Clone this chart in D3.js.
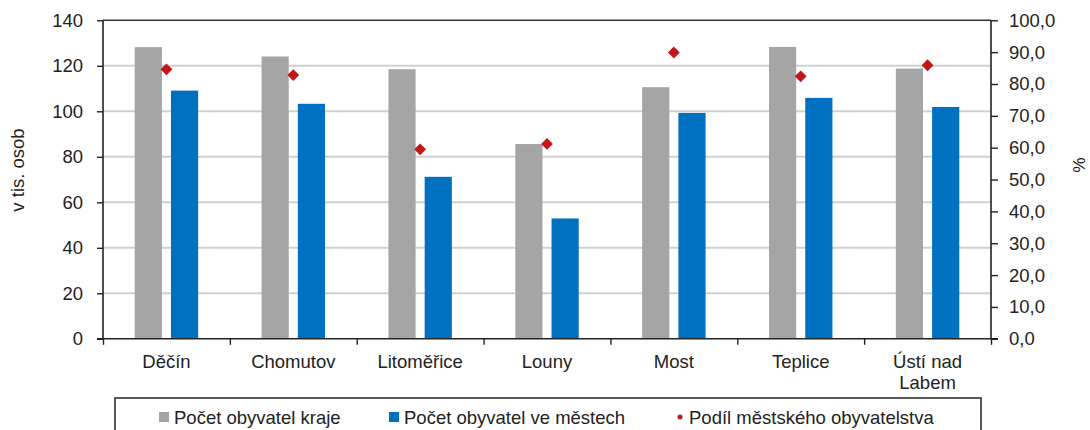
<!DOCTYPE html>
<html>
<head>
<meta charset="utf-8">
<script src="https://cdn.jsdelivr.net/npm/d3@7"></script>
<style>
  body { margin: 0; background: #fff; }
  svg { display: block; font-family: "Liberation Sans", Arial, sans-serif; }
</style>
</head>
<body>
<svg id="chart" width="1090" height="430"></svg>
<script>
// data
const categories = ['Děčín', 'Chomutov', 'Litoměřice', 'Louny', 'Most', 'Teplice', 'Ústí nad Labem'];
const categoryLines = [['Děčín'], ['Chomutov'], ['Litoměřice'], ['Louny'], ['Most'], ['Teplice'], ['Ústí nad', 'Labem']];
const krajeValues = [128.2, 124.1, 118.5, 85.6, 110.6, 128.3, 118.8];
const mestaValues = [109.1, 103.3, 71.2, 52.9, 99.3, 105.9, 101.9];
const podilValues = [84.6, 82.8, 59.5, 61.2, 89.9, 82.4, 85.9];
const leftTicks = [0, 20, 40, 60, 80, 100, 120, 140];
const rightTicks = [0, 10, 20, 30, 40, 50, 60, 70, 80, 90, 100];
const seriesNames = ['Počet obyvatel kraje', 'Počet obyvatel ve městech', 'Podíl městského obyvatelstva'];

const gray = '#a5a5a5', blue = '#0070c0', red = '#c3161c', ink = '#222';
const plotLeft = 103, plotRight = 991, plotTop = 20.3, plotBottom = 338.8;
const fs = 18.5;

const svg = d3.select('#chart');
const csLocale = d3.formatLocale({ decimal: ',', thousands: ' ', grouping: [3], currency: ['', ' Kč'] });
const pctFormat = csLocale.format('.1f');

const x = d3.scaleBand().domain(categories).range([plotLeft, plotRight]).padding(0);
const xIn = d3.scaleBand().domain(['kraj', 'mesta'])
    .range([x.bandwidth() * 0.25, x.bandwidth() * 0.75]).paddingInner(0.25);
const yL = d3.scaleLinear().domain([0, 140]).range([plotBottom, plotTop]);
const yR = d3.scaleLinear().domain([0, 100]).range([plotBottom, plotTop]);

// gridlines
svg.append('g')
    .selectAll('line')
    .data(leftTicks.filter(d => d > 0 && d < 140))
    .enter().append('line')
    .attr('x1', plotLeft).attr('x2', plotRight)
    .attr('y1', d => yL(d)).attr('y2', d => yL(d))
    .attr('stroke', '#d0d0d0').attr('stroke-width', 2);

// bars
const groups = svg.append('g')
    .selectAll('g')
    .data(categories)
    .enter().append('g')
    .attr('transform', d => `translate(${x(d)},0)`);
groups.append('rect')
    .attr('x', xIn('kraj'))
    .attr('width', xIn.bandwidth())
    .attr('y', (d, i) => yL(krajeValues[i]))
    .attr('height', (d, i) => yL(0) - yL(krajeValues[i]))
    .attr('fill', gray);
groups.append('rect')
    .attr('x', xIn('mesta'))
    .attr('width', xIn.bandwidth())
    .attr('y', (d, i) => yL(mestaValues[i]))
    .attr('height', (d, i) => yL(0) - yL(mestaValues[i]))
    .attr('fill', blue);

// diamonds
const diamond = d3.symbol(d3.symbolSquare, 70);
svg.append('g')
    .selectAll('path')
    .data(categories)
    .enter().append('path')
    .attr('d', diamond)
    .attr('transform', (d, i) => `translate(${x(d) + x.bandwidth() / 2},${yR(podilValues[i])}) rotate(45)`)
    .attr('fill', red);

// plot frame top
svg.append('line')
    .attr('x1', plotLeft).attr('x2', plotRight).attr('y1', plotTop).attr('y2', plotTop)
    .attr('stroke', '#333').attr('stroke-width', 1.5);

// left axis
const axL = svg.append('g')
    .attr('transform', `translate(${plotLeft},0)`)
    .call(d3.axisLeft(yL).tickValues(leftTicks).tickSize(6).tickPadding(14));
// right axis
const axR = svg.append('g')
    .attr('transform', `translate(${plotRight},0)`)
    .call(d3.axisRight(yR).tickValues(rightTicks).tickSize(7).tickPadding(11).tickFormat(pctFormat));
// bottom axis: ticks at category boundaries
const xb = d3.scaleLinear().domain([0, categories.length]).range([plotLeft, plotRight]);
const axB = svg.append('g')
    .attr('transform', `translate(0,${plotBottom})`)
    .call(d3.axisBottom(xb).tickValues(d3.range(0, categories.length + 1)).tickSize(6).tickFormat(''));

[axL, axR, axB].forEach(a => {
    a.attr('font-family', null).attr('font-size', null);
    a.select('.domain').attr('stroke', ink).attr('stroke-width', 1.6);
    a.selectAll('.tick line').attr('stroke', ink).attr('stroke-width', 1.4);
    a.selectAll('.tick text').attr('fill', ink).style('font-size', fs + 'px');
});
axB.select('.domain').attr('d', `M${plotLeft},0H${plotRight}`);
axL.select('.domain').attr('d', `M-6,${plotBottom}H0V${plotTop}`);
axR.select('.domain').attr('d', `M7,${plotBottom}H0V${plotTop}`);

// category labels
const lab = svg.append('g')
    .selectAll('text')
    .data(categories)
    .enter().append('text')
    .attr('text-anchor', 'middle')
    .attr('fill', ink)
    .style('font-size', fs + 'px')
    .attr('transform', d => `translate(${x(d) + x.bandwidth() / 2},368)`);
lab.selectAll('tspan')
    .data((d, i) => categoryLines[i])
    .enter().append('tspan')
    .attr('x', 0)
    .attr('y', (d, i) => i * 21)
    .text(d => d);

// axis titles
svg.append('text')
    .attr('transform', 'translate(24,170) rotate(-90)')
    .attr('text-anchor', 'middle')
    .attr('fill', ink)
    .style('font-size', fs + 'px')
    .text('v tis. osob');
svg.append('text')
    .attr('transform', 'translate(1073,165) rotate(90)')
    .attr('text-anchor', 'middle')
    .attr('fill', ink)
    .style('font-size', '17px')
    .text('%');

// legend
const legend = svg.append('g');
legend.append('rect')
    .attr('x', 115).attr('y', 398).attr('width', 866).attr('height', 50)
    .attr('fill', 'none').attr('stroke', ink).attr('stroke-width', 1.5);
const legendX = [159, 389, 677];
const items = legend.selectAll('.legend-item')
    .data(seriesNames)
    .enter().append('g')
    .attr('class', 'legend-item')
    .attr('transform', (d, i) => `translate(${legendX[i]},417)`);
items.filter((d, i) => i < 2).append('rect')
    .attr('x', 0).attr('y', -5).attr('width', 10).attr('height', 10)
    .attr('fill', (d, i) => i === 0 ? gray : blue);
items.filter((d, i) => i === 2).append('circle')
    .attr('cx', 3).attr('cy', 0).attr('r', 2.5)
    .attr('fill', red);
items.append('text')
    .attr('x', (d, i) => i === 2 ? 12 : 15)
    .attr('y', 6.5)
    .attr('fill', ink)
    .style('font-size', fs + 'px')
    .text(d => d);
</script>
</body>
</html>
